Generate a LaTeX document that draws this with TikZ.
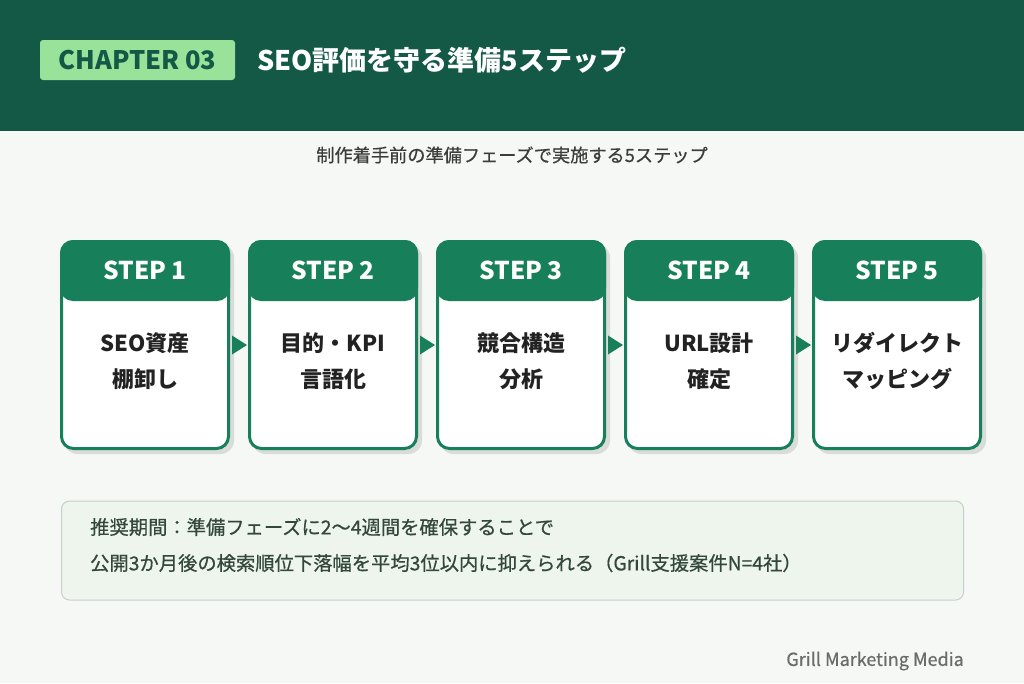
\documentclass[tikz,border=0pt]{standalone}
\usepackage{fontspec}
\setmainfont{Noto Sans CJK JP}
\newfontfamily\medjp{Noto Sans CJK JP}[FakeBold=0.6]
\usetikzlibrary{calc}
\definecolor{bgc}{HTML}{F6F8F5}
\definecolor{hdr}{HTML}{145846}
\definecolor{badgec}{HTML}{98E29A}
\definecolor{stepg}{HTML}{17805B}
\definecolor{shadowc}{HTML}{D9DCD9}
\definecolor{bodyc}{HTML}{222222}
\definecolor{subc}{HTML}{3C3C3C}
\definecolor{notefill}{HTML}{EEF5EC}
\definecolor{noteline}{HTML}{C6D1C6}
\definecolor{notetextc}{HTML}{33473B}
\definecolor{footc}{HTML}{6B6B6B}
\tikzset{
  badge/.style={fill=badgec, rounded corners=3pt, minimum width=195pt, minimum height=40pt, inner sep=0pt,
    text=hdr, font=\bfseries\fontsize{25.5}{28}\selectfont},
  titletext/.style={anchor=west, inner sep=0pt, text=white, font=\bfseries\fontsize{27}{30}\selectfont},
  subtext/.style={inner sep=0pt, text=subc, font=\medjp\fontsize{18.2}{20}\selectfont},
  shadowbox/.style={fill=shadowc, rounded corners=13.5pt, minimum width=170pt, minimum height=210pt, inner sep=0pt},
  cardbox/.style={fill=white, draw=stepg, line width=3pt, rounded corners=12pt, minimum width=167pt, minimum height=207pt, inner sep=0pt},
  headbox/.style={fill=stepg, rounded corners=13pt, minimum width=170pt, minimum height=61pt, inner sep=0pt},
  steplabel/.style={inner sep=0pt, text=white, font=\bfseries\fontsize{24.5}{26}\selectfont},
  bodytext/.style={inner sep=0pt, align=center, text=bodyc, font=\bfseries\fontsize{22}{36}\selectfont},
  arrowtri/.style={fill=stepg},
  notebox/.style={fill=notefill, draw=noteline, line width=1pt, rounded corners=8pt, minimum width=902pt, minimum height=99pt, inner sep=0pt},
  notetext/.style={anchor=west, inner sep=0pt, text=notetextc, font=\medjp\fontsize{19.3}{22}\selectfont},
  foottext/.style={anchor=east, inner sep=0pt, text=footc, font=\medjp\fontsize{18}{20}\selectfont}
}
\begin{document}
\begin{tikzpicture}[x=1pt,y=-1pt]
\useasboundingbox (0,0) rectangle (1024,683);
\fill[bgc] (0,0) rectangle (1024,683);
\fill[hdr] (0,0) rectangle (1024,131);
\node[badge] (badge) at (137.5,60) {CHAPTER 03};
\node[titletext] (title) at (257,60) {SEO評価を守る準備5ステップ};
\node[subtext] (sub) at (512,155) {制作着手前の準備フェーズで実施する5ステップ};
\foreach \i/\txt [evaluate=\i as \cx using 145+(\i-1)*188] in
  {1/{SEO資産\\棚卸し},2/{目的・KPI\\言語化},3/{競合構造\\分析},4/{URL設計\\確定},5/{リダイレクト\\マッピング}} {
  \node[shadowbox] (s\i) at (\cx+4,349) {};
  \node[cardbox] (c\i) at (\cx,345) {};
  \node[headbox] (h\i) at (\cx,270.5) {};
  \node[steplabel] (l\i) at (h\i) {STEP \i};
  \node[bodytext] (t\i) at (\cx,361) {\txt};
}
\foreach \i [evaluate=\i as \j using int(\i+1)] in {1,2,3,4} {
  \coordinate (a\i) at ($(c\i.east)!0.5!(c\j.west)$);
  \fill[arrowtri] ($(a\i)+(-7,-9.5)$) -- ($(a\i)+(8,0)$) -- ($(a\i)+(-7,9.5)$) -- cycle;
}
\node[notebox] (note) at (512.5,550.5) {};
\node[notetext] (n1) at (90,527) {推奨期間：準備フェーズに2〜4週間を確保することで};
\node[notetext] (n2) at (90,563) {公開3か月後の検索順位下落幅を平均3位以内に抑えられる（Grill支援案件N=4社）};
\node[foottext] (foot) at (964,661) {Grill Marketing Media};
\end{tikzpicture}
\end{document}
